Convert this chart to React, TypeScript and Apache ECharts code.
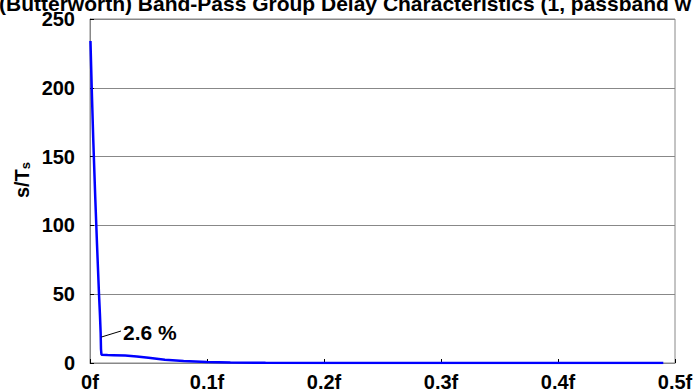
import React, { useEffect, useRef } from "react";
import * as echarts from "echarts";

const freqs = [0.0004, 0.0015, 0.0028, 0.0045, 0.006, 0.0077, 0.0085, 0.0091, 0.0094, 0.0098, 0.015, 0.02, 0.03, 0.04, 0.05, 0.064, 0.08, 0.1, 0.12, 0.15, 0.2, 0.3, 0.4, 0.49];
const delays = [234, 199, 162, 120, 86, 50, 35, 22, 10, 6, 5.8, 5.7, 5.4, 4.8, 3.8, 2.4, 1.4, 0.7, 0.4, 0.2, 0.05, 0, 0, 0];
const xTicks = [0, 0.1, 0.2, 0.3, 0.4, 0.5];
const yTicks = [0, 50, 100, 150, 200, 250];
const titleText = "(Butterworth) Band-Pass Group Delay Characteristics (1, passband w";
const annotationText = "2.6 %";

const FONT = "'Liberation Sans', Arial, sans-serif";

export default function App() {
  const ref = useRef<HTMLDivElement>(null);
  useEffect(() => {
    document.body.style.margin = "0";
    const chart = echarts.init(ref.current!, null, { renderer: "svg" });
    const data = freqs.map((f, i) => [f, delays[i]]);
    chart.setOption({
      animation: false,
      backgroundColor: "#ffffff",
      grid: {
        left: 90,
        right: 19,
        top: 19,
        bottom: 29,
        show: true,
        borderColor: "#888888",
        borderWidth: 1,
        outerBoundsMode: "none",
      },
      xAxis: {
        type: "value",
        min: xTicks[0],
        max: xTicks[xTicks.length - 1],
        interval: 0.1,
        axisLine: { show: true, lineStyle: { color: "#888888", width: 1 } },
        axisTick: { show: true, inside: true, length: 4, lineStyle: { color: "#000000" } },
        splitLine: { show: false },
        axisLabel: {
          color: "#000",
          fontFamily: FONT,
          fontWeight: "bold",
          fontSize: 20,
          margin: 9,
          formatter: (v: number) => (v === 0 ? "0" : String(+v.toFixed(1))) + "f",
        },
      },
      yAxis: {
        type: "value",
        min: yTicks[0],
        max: yTicks[yTicks.length - 1],
        interval: 50,
        axisLine: { show: true, lineStyle: { color: "#888888", width: 1 } },
        axisTick: { show: true, inside: true, length: 4, lineStyle: { color: "#000000" } },
        splitLine: { show: true, lineStyle: { color: "#888888", width: 1 } },
        axisLabel: {
          color: "#000",
          fontFamily: FONT,
          fontWeight: "bold",
          fontSize: 20,
          margin: 15,
        },
      },
      series: [
        {
          type: "line",
          data,
          showSymbol: false,
          symbol: "none",
          lineStyle: { color: "#0000ff", width: 2.5 },
          z: 5,
        },
      ],
      graphic: [
        {
          type: "text",
          x: -1,
          y: 3,
          style: {
            text: titleText,
            font: `bold 21px ${FONT}`,
            fill: "#000",
            verticalAlign: "middle",
            align: "left",
          },
        },
        {
          type: "text",
          x: 22,
          y: 180,
          rotation: Math.PI / 2,
          style: {
            text: "s/T{s|s}",
            font: `bold 20px ${FONT}`,
            fill: "#000",
            align: "center",
            verticalAlign: "middle",
            rich: {
              s: { fontSize: 13, fontWeight: "bold", fontFamily: FONT, verticalAlign: "bottom", padding: [7, 0, 0, 0] },
            },
          },
        },
        {
          type: "line",
          shape: { x1: 101.5, y1: 337, x2: 121, y2: 331 },
          style: { stroke: "#000", lineWidth: 1 },
          z: 10,
        },
        {
          type: "text",
          x: 123,
          y: 332,
          style: {
            text: annotationText,
            font: `bold 21px ${FONT}`,
            fill: "#000",
            verticalAlign: "middle",
            align: "left",
          },
          z: 10,
        },
      ],
    });
    return () => chart.dispose();
  }, []);
  return <div ref={ref} style={{ width: 694, height: 392, position: "fixed", left: 0, top: 0 }} />;
}
